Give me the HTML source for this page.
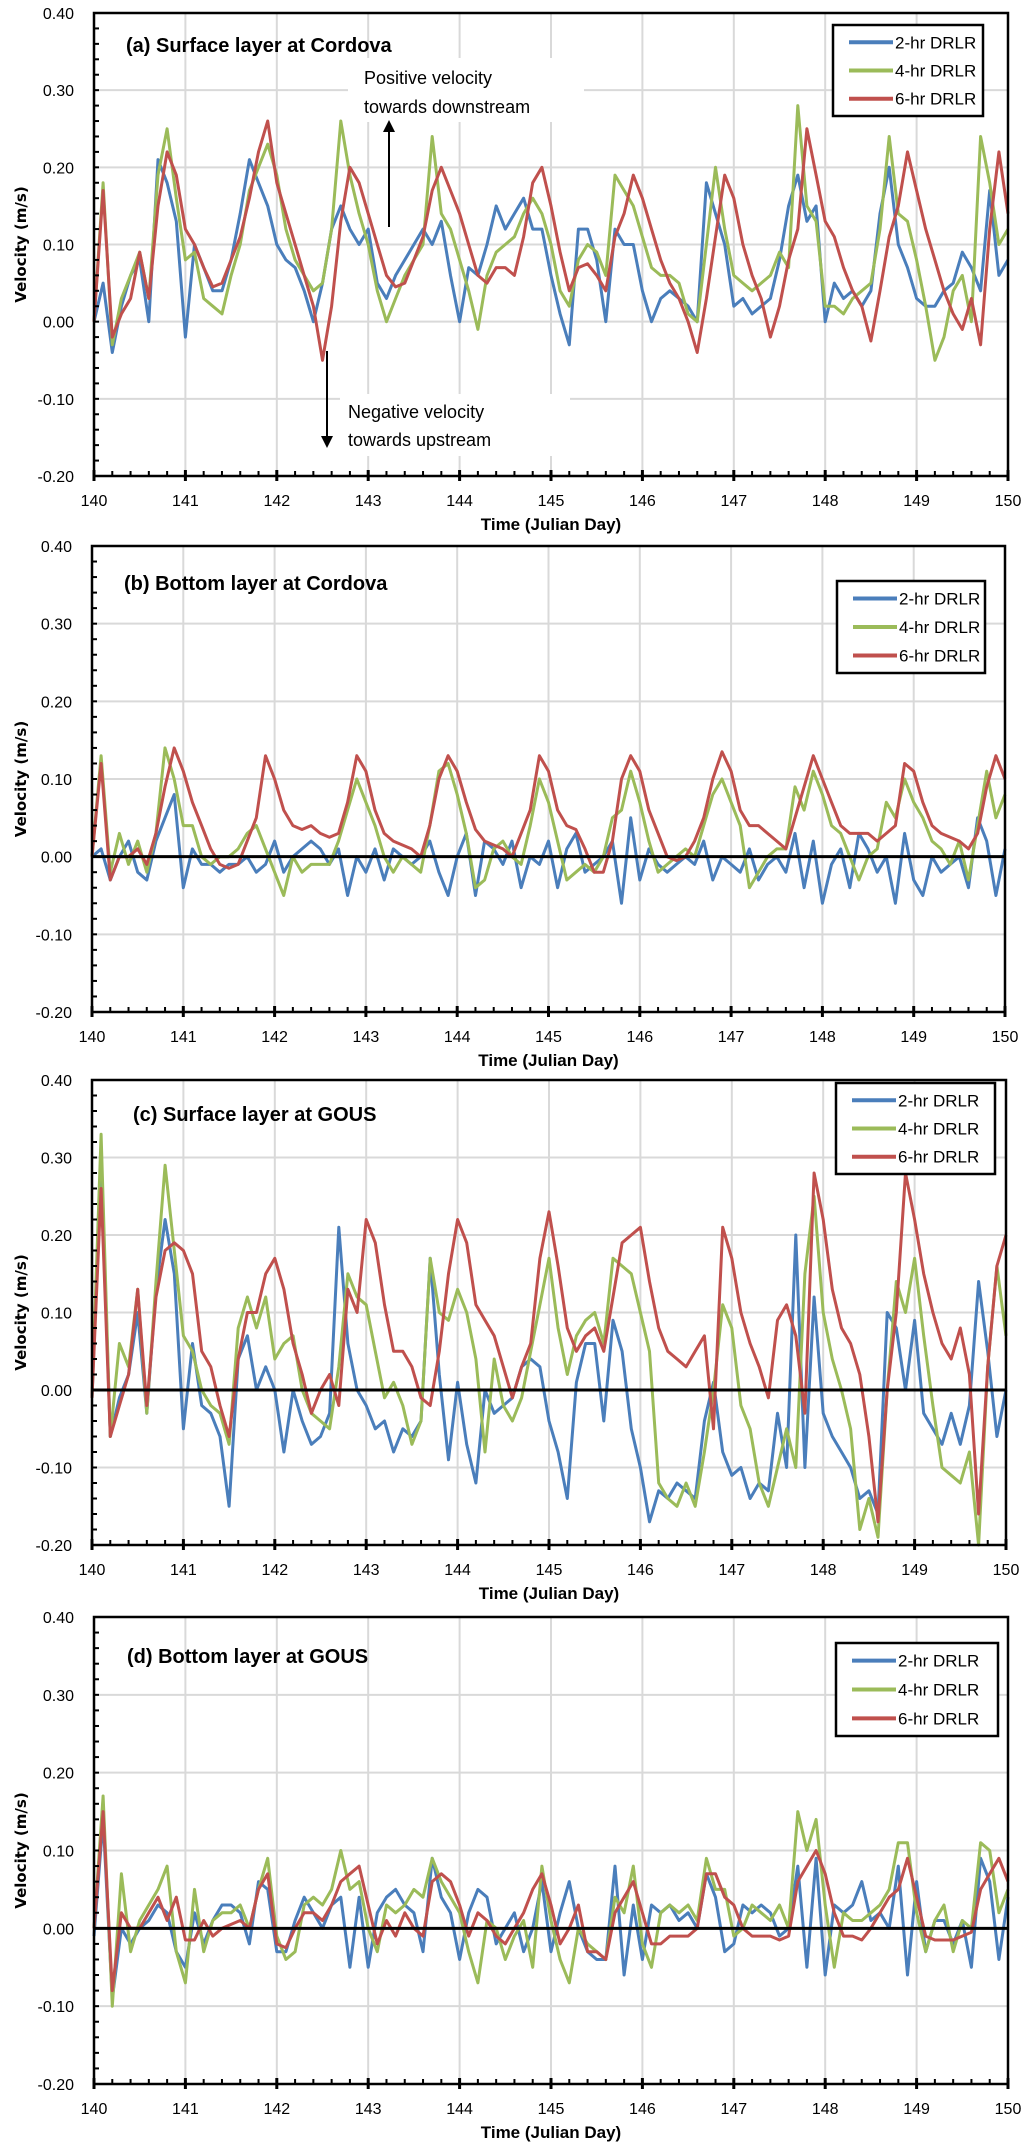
<!DOCTYPE html>
<html><head><meta charset="utf-8"><style>
html,body{margin:0;padding:0;background:#fff;}
svg{display:block;}
text{font-family:"Liberation Sans Narrow","Liberation Sans",sans-serif;fill:#000;}
</style></head><body>
<svg id="fig" width="1024" height="2143" viewBox="0 0 1024 2143" xmlns="http://www.w3.org/2000/svg"></svg>
<script>
// ---- data (0.1-day steps from day 140 to 150) ----
const days = Array.from({length:101},(_,i)=>140+i*0.1);
const xTicks = [140,141,142,143,144,145,146,147,148,149,150];
const yTicks = [-0.2,-0.1,0,0.1,0.2,0.3,0.4];
const yTickLabels = ["-0.20","-0.10","0.00","0.10","0.20","0.30","0.40"];
const seriesNames = ["2-hr DRLR","4-hr DRLR","6-hr DRLR"];
const panelTitles = ["(a) Surface layer at Cordova","(b) Bottom layer at Cordova","(c) Surface layer at GOUS","(d) Bottom layer at GOUS"];

const aBlue=[0,0.05,-0.04,0.02,0.06,0.08,0,0.21,0.18,0.13,-0.02,0.1,0.07,0.04,0.04,0.08,0.14,0.21,0.18,0.15,0.1,0.08,0.07,0.04,0,0.05,0.12,0.15,0.12,0.1,0.12,0.05,0.03,0.06,0.08,0.1,0.12,0.1,0.13,0.06,0,0.07,0.06,0.1,0.15,0.12,0.14,0.16,0.12,0.12,0.06,0.01,-0.03,0.12,0.12,0.08,0,0.12,0.1,0.1,0.04,0,0.03,0.04,0.03,0.02,0,0.18,0.14,0.1,0.02,0.03,0.01,0.02,0.03,0.08,0.15,0.19,0.13,0.15,0,0.05,0.03,0.04,0.02,0.04,0.14,0.2,0.1,0.07,0.03,0.02,0.02,0.04,0.05,0.09,0.07,0.04,0.17,0.06,0.08];
const aGreen=[0,0.18,-0.03,0.03,0.06,0.09,0.03,0.19,0.25,0.16,0.08,0.09,0.03,0.02,0.01,0.06,0.1,0.17,0.2,0.23,0.19,0.12,0.08,0.06,0.04,0.05,0.12,0.26,0.19,0.14,0.1,0.04,0,0.03,0.06,0.08,0.1,0.24,0.14,0.12,0.08,0.04,-0.01,0.06,0.09,0.1,0.11,0.14,0.16,0.14,0.1,0.04,0.02,0.08,0.1,0.09,0.06,0.19,0.17,0.15,0.11,0.07,0.06,0.06,0.05,0.01,0,0.1,0.2,0.12,0.06,0.05,0.04,0.05,0.06,0.09,0.07,0.28,0.15,0.13,0.02,0.02,0.01,0.03,0.04,0.05,0.12,0.24,0.14,0.13,0.08,0.02,-0.05,-0.02,0.04,0.06,0,0.24,0.18,0.1,0.12];
const aRed=[0,0.17,-0.02,0.01,0.03,0.09,0.03,0.15,0.22,0.19,0.12,0.1,0.07,0.045,0.05,0.08,0.11,0.16,0.22,0.26,0.18,0.14,0.1,0.06,0.02,-0.05,0.02,0.13,0.2,0.18,0.14,0.1,0.06,0.045,0.05,0.08,0.11,0.17,0.2,0.17,0.14,0.1,0.06,0.05,0.07,0.07,0.06,0.11,0.18,0.2,0.15,0.09,0.04,0.07,0.075,0.06,0.04,0.11,0.14,0.19,0.16,0.12,0.08,0.05,0.03,0,-0.04,0.03,0.11,0.19,0.16,0.1,0.06,0.03,-0.02,0.02,0.08,0.12,0.25,0.19,0.13,0.11,0.07,0.04,0.02,-0.025,0.04,0.11,0.15,0.22,0.17,0.12,0.08,0.04,0.01,-0.01,0.03,-0.03,0.12,0.22,0.14];

const bBlue=[0,0.01,-0.03,0,0.02,-0.02,-0.03,0.02,0.05,0.08,-0.04,0.01,-0.01,-0.01,-0.02,-0.01,-0.01,0,-0.02,-0.01,0.02,-0.02,0,0.01,0.02,0.01,-0.01,0.01,-0.05,0,-0.02,0.01,-0.03,0.01,0,-0.01,0,0.02,-0.02,-0.05,0,0.03,-0.05,0.02,0.01,-0.01,0.02,-0.04,0,-0.01,0.02,-0.04,0.01,0.03,-0.02,-0.01,0,0.02,-0.06,0.05,-0.03,0.01,-0.01,-0.02,-0.01,0,-0.01,0.02,-0.03,0,-0.01,-0.02,0.01,-0.03,-0.01,0,-0.02,0.03,-0.04,0.02,-0.06,-0.01,0.01,-0.04,0.03,0.01,-0.02,0,-0.06,0.03,-0.03,-0.05,0,-0.02,-0.01,0,-0.04,0.05,0.02,-0.05,0.01];
const bGreen=[0,0.13,-0.02,0.03,-0.01,0.02,-0.02,0.03,0.14,0.1,0.04,0.04,0,-0.01,0,0,0.01,0.03,0.04,0.01,-0.02,-0.05,0,-0.02,-0.01,-0.01,-0.01,0.02,0.06,0.1,0.07,0.04,0,-0.02,0,-0.01,-0.02,0.04,0.11,0.12,0.08,0.03,-0.04,-0.03,0.01,0.02,0,-0.01,0.04,0.1,0.07,0.02,-0.03,-0.02,-0.01,-0.02,0,0.05,0.06,0.11,0.07,0.02,-0.02,-0.01,0,0.01,0,0.04,0.08,0.1,0.07,0.04,-0.04,-0.02,0,0.01,0.01,0.09,0.06,0.11,0.08,0.04,0.03,0,-0.03,0,0.01,0.07,0.05,0.1,0.07,0.05,0.02,0.01,-0.01,0.02,-0.03,0.04,0.11,0.05,0.08];
const bRed=[0,0.12,-0.03,0,0,0.01,-0.01,0.03,0.09,0.14,0.11,0.07,0.04,0.01,-0.01,-0.015,-0.01,0.02,0.05,0.13,0.1,0.06,0.04,0.035,0.04,0.03,0.025,0.03,0.07,0.13,0.11,0.06,0.03,0.02,0.015,0.01,0,0.04,0.1,0.13,0.11,0.07,0.035,0.02,0.015,0.01,0,0.03,0.06,0.13,0.11,0.06,0.04,0.035,0.01,-0.02,-0.02,0.02,0.1,0.13,0.11,0.06,0.03,0,-0.005,0,0.02,0.05,0.1,0.135,0.11,0.06,0.04,0.04,0.03,0.02,0.01,0.05,0.09,0.13,0.1,0.07,0.04,0.03,0.03,0.03,0.02,0.03,0.04,0.12,0.11,0.07,0.04,0.03,0.025,0.02,0.01,0.03,0.09,0.13,0.1];

const cBlue=[-0.01,0.3,-0.06,-0.01,0.02,0.1,-0.03,0.13,0.22,0.15,-0.05,0.06,-0.02,-0.03,-0.06,-0.15,0.04,0.07,0,0.03,0,-0.08,0,-0.04,-0.07,-0.06,-0.03,0.21,0.06,0,-0.02,-0.05,-0.04,-0.08,-0.05,-0.06,-0.04,0.17,0.02,-0.09,0.01,-0.07,-0.12,0,-0.03,-0.02,-0.01,0.03,0.04,0.03,-0.04,-0.08,-0.14,0.01,0.06,0.06,-0.04,0.09,0.05,-0.05,-0.1,-0.17,-0.13,-0.14,-0.12,-0.13,-0.14,-0.04,0.01,-0.08,-0.11,-0.1,-0.14,-0.12,-0.13,-0.03,-0.1,0.2,-0.1,0.12,-0.03,-0.06,-0.08,-0.1,-0.14,-0.13,-0.16,0.1,0.08,0,0.09,-0.03,-0.05,-0.07,-0.03,-0.07,-0.02,0.14,0.05,-0.06,0];
const cGreen=[-0.01,0.33,-0.06,0.06,0.03,0.13,-0.03,0.14,0.29,0.18,0.07,0.05,0,-0.02,-0.03,-0.07,0.08,0.12,0.08,0.12,0.04,0.06,0.07,0,-0.03,-0.04,-0.05,0.03,0.15,0.12,0.11,0.05,-0.01,0.01,-0.02,-0.07,-0.04,0.17,0.1,0.09,0.13,0.1,0.04,-0.08,0.04,-0.02,-0.04,-0.01,0.05,0.11,0.17,0.08,0.02,0.07,0.09,0.1,0.06,0.17,0.16,0.15,0.1,0.05,-0.12,-0.14,-0.15,-0.12,-0.15,-0.08,0,0.11,0.08,-0.02,-0.05,-0.12,-0.15,-0.1,-0.05,-0.1,0.15,0.25,0.1,0.04,0,-0.05,-0.18,-0.14,-0.19,0,0.14,0.1,0.17,0.07,-0.02,-0.1,-0.11,-0.12,-0.08,-0.2,0.03,0.16,0.07];
const cRed=[-0.01,0.26,-0.06,-0.02,0.02,0.13,-0.02,0.12,0.18,0.19,0.18,0.15,0.05,0.03,-0.02,-0.06,0.04,0.1,0.1,0.15,0.17,0.13,0.06,0.02,-0.03,0,0.02,-0.02,0.13,0.1,0.22,0.19,0.11,0.05,0.05,0.03,-0.01,-0.02,0.05,0.15,0.22,0.19,0.11,0.09,0.07,0.03,-0.01,0.03,0.06,0.17,0.23,0.16,0.08,0.05,0.07,0.08,0.05,0.12,0.19,0.2,0.21,0.14,0.08,0.05,0.04,0.03,0.05,0.07,-0.05,0.21,0.17,0.1,0.06,0.03,-0.01,0.09,0.11,0.07,-0.03,0.28,0.22,0.13,0.08,0.06,0.02,-0.06,-0.17,0,0.1,0.28,0.22,0.15,0.1,0.06,0.04,0.08,0.02,-0.16,0.03,0.16,0.2];

const dBlue=[-0.01,0.14,-0.09,0,-0.02,0,0.01,0.03,0.02,-0.03,-0.05,0.02,-0.02,0.01,0.03,0.03,0.02,-0.02,0.06,0.05,-0.03,-0.03,0.01,0.04,0.02,0,0.03,0.04,-0.05,0.04,-0.05,0.02,0.04,0.05,0.03,0.02,-0.03,0.09,0.04,0.02,-0.04,0.02,0.05,0.04,-0.02,0,0.02,-0.03,0,0.06,-0.03,0.02,0.06,0,-0.03,-0.04,-0.04,0.08,-0.06,0.03,-0.04,0.03,0.02,0.03,0.01,0.02,0,0.07,0.04,-0.03,-0.02,0.03,0.02,0.03,0.02,-0.01,0,0.08,-0.05,0.09,-0.06,0.03,0.02,0.03,0.06,0.01,0.02,0,0.08,-0.06,0.06,-0.03,0.01,0.01,-0.02,0.01,-0.05,0.09,0.06,-0.04,0.04];
const dGreen=[0,0.17,-0.1,0.07,-0.03,0.01,0.03,0.05,0.08,-0.03,-0.07,0.05,-0.03,0.01,0.02,0.02,0.03,0,0.05,0.09,-0.01,-0.04,-0.03,0.03,0.04,0.03,0.05,0.1,0.05,0.06,0,-0.03,0.03,0.02,0.03,0.05,0.04,0.09,0.06,0.04,0.02,-0.03,-0.07,0.01,0,-0.04,-0.01,0.01,-0.05,0.08,0.01,-0.04,-0.07,0,-0.02,-0.03,-0.04,0.04,0.02,0.08,-0.02,-0.05,0.02,0.03,0.02,0.03,0.01,0.09,0.05,0.05,-0.01,0,0.03,0.02,0.01,0.03,0,0.15,0.1,0.14,0.03,-0.05,0.02,0.01,0.01,0.02,0.03,0.05,0.11,0.11,0.02,-0.03,0.01,0.03,-0.03,0.01,0,0.11,0.1,0.02,0.05];
const dRed=[0,0.15,-0.08,0.02,0,0,0.02,0.04,0.01,0.04,-0.015,-0.015,0.01,-0.01,0,0.005,0.01,0,0.05,0.07,-0.02,-0.025,0,0.02,0.02,0.01,0.03,0.06,0.07,0.08,0.03,-0.02,0.01,-0.01,0.02,0,-0.01,0.06,0.07,0.06,0.03,-0.01,0.02,0.01,-0.01,-0.02,0,0.02,0.05,0.07,0.03,-0.02,0,0.03,-0.03,-0.03,-0.04,0.02,0.04,0.06,0.02,-0.02,-0.02,-0.01,-0.01,-0.01,0,0.07,0.07,0.04,0.03,0,-0.01,-0.01,-0.01,-0.015,-0.01,0.06,0.08,0.1,0.07,0.02,-0.01,-0.01,-0.015,0,0.02,0.04,0.05,0.09,0.04,-0.01,-0.015,-0.015,-0.015,-0.01,-0.005,0.05,0.07,0.09,0.06];

const panelSeries = [[aBlue,aGreen,aRed],[bBlue,bGreen,bRed],[cBlue,cGreen,cRed],[dBlue,dGreen,dRed]];

// ---- layout ----
const colors=["#4a7ebb","#9bbb59","#c0504d"];
const layout=[
 {l:94,r:1008,t:13,b:476,zero:false,lg:[833,25,150,91],tx:126,ty:45},
 {l:92,r:1005,t:546,b:1012,zero:true,lg:[837,581,148,92],tx:124,ty:583},
 {l:92,r:1006,t:1080,b:1545,zero:true,lg:[836,1083,159,91],tx:133,ty:1114},
 {l:94,r:1008,t:1617,b:2084,zero:true,lg:[836,1643,162,93],tx:127,ty:1656}
];
const NS="http://www.w3.org/2000/svg";
const svg=document.getElementById('fig');
function mk(tag,attrs,parent){const e=document.createElementNS(NS,tag);for(const k in attrs)e.setAttribute(k,attrs[k]);(parent||svg).appendChild(e);return e;}

layout.forEach((L,pi)=>{
  const g=mk('g',{});
  
  
  const xS=d=>L.l+(d-140)/10*(L.r-L.l);
  const yS=v=>L.b-(v+0.2)/0.6*(L.b-L.t);
  // gridlines
  const grid=mk('g',{},g);
  
  
  xTicks.forEach(d=>{mk('line',{x1:xS(d),x2:xS(d),y1:L.t,y2:L.b,stroke:'#d9d9d9','stroke-width':2},grid);});
  yTicks.forEach(v=>{mk('line',{x1:L.l,x2:L.r,y1:yS(v),y2:yS(v),stroke:'#d9d9d9','stroke-width':2},grid);});
  if(pi===0){
    mk('rect',{x:348,y:58,width:236,height:64,fill:'#fff'},g);
    mk('rect',{x:340,y:394,width:230,height:62,fill:'#fff'},g);
  }
  // series
  panelSeries[pi].forEach((arr,si)=>{
    const pts=arr.map((v,i)=>xS(days[i]).toFixed(1)+','+yS(v).toFixed(1)).join(' ');
    const pl=mk('polyline',{points:pts,fill:'none',stroke:colors[si],'stroke-width':3,'stroke-linejoin':'round'},g);
    
    
  });
  if(L.zero){
    const z=mk('line',{x1:L.l,x2:L.r,y1:yS(0),y2:yS(0),stroke:'#000','stroke-width':3},g);
    
    
  }
  // frame
  const fr=mk('rect',{x:L.l,y:L.t,width:L.r-L.l,height:L.b-L.t,fill:'none',stroke:'#000','stroke-width':2.5},g);
  
  
  // minor ticks
  for(let i=0;i<=50;i++){const x=xS(140+i*0.2);const maj=i%5===0;mk('line',{x1:x,x2:x,y1:L.b-(maj?6:5),y2:L.b+(maj?5:0),stroke:'#000','stroke-width':maj?3:2},g);}
  for(let i=0;i<=30;i++){const y=yS(-0.2+i*0.02);mk('line',{x1:L.l,x2:L.l+5,y1:y,y2:y,stroke:'#000','stroke-width':2},g);}
  // tick labels
  xTicks.forEach(d=>{const t=mk('text',{x:xS(d),y:L.b+30,'text-anchor':'middle','font-size':16},g);t.textContent=d;
    
    });
  yTicks.forEach((v,i)=>{const t=mk('text',{x:L.l-20,y:yS(v)+6,'text-anchor':'end','font-size':16},g);t.textContent=yTickLabels[i];
    
    });
  const xt=mk('text',{x:(L.l+L.r)/2,y:L.b+54,'text-anchor':'middle','font-size':17,'font-weight':'bold'},g);
  xt.textContent='Time (Julian Day)';
  
  
  const cy=(L.t+L.b)/2;
  const yt=mk('text',{x:0,y:0,'text-anchor':'middle','font-size':15,'font-weight':'bold',transform:`translate(26,${cy}) rotate(-90)`,style:'font-family:"DejaVu Sans",sans-serif'},g);
  yt.textContent='Velocity (m/s)';
  
  
  const tt=mk('text',{x:L.tx,y:L.ty+7,'font-size':20,'font-weight':'bold'},g);
  tt.textContent=panelTitles[pi];
  
  
  // legend
  const [lx,ly,lw,lh]=L.lg;
  const lg=mk('g',{},g);
  
  
  mk('rect',{x:lx,y:ly,width:lw,height:lh,fill:'#fff',stroke:'#000','stroke-width':2.5},lg);
  seriesNames.forEach((n,si)=>{
    const yy=ly+lh*(0.19+si*0.31);
    const ent=mk('g',{},lg);
    
    
    mk('line',{x1:lx+16,x2:lx+60,y1:yy,y2:yy,stroke:colors[si],'stroke-width':4},ent);
    const t=mk('text',{x:lx+62,y:yy+6,'font-size':17},ent);t.textContent=n;
  });
  // annotations
  if(pi===0){
    const an=mk('g',{},g);
    
    
    const t1=mk('text',{x:364,y:84,'font-size':18},an);t1.textContent='Positive velocity';
    const t2=mk('text',{x:364,y:113,'font-size':18},an);t2.textContent='towards downstream';
    mk('line',{x1:389,x2:389,y1:227,y2:130,stroke:'#000','stroke-width':2},an);
    mk('polygon',{points:'383,132 395,132 389,120',fill:'#000'},an);
    const t3=mk('text',{x:348,y:418,'font-size':18},an);t3.textContent='Negative velocity';
    const t4=mk('text',{x:348,y:446,'font-size':18},an);t4.textContent='towards upstream';
    mk('line',{x1:327,x2:327,y1:351,y2:438,stroke:'#000','stroke-width':2},an);
    mk('polygon',{points:'321,436 333,436 327,448',fill:'#000'},an);
  }
});
</script>
</body></html>
